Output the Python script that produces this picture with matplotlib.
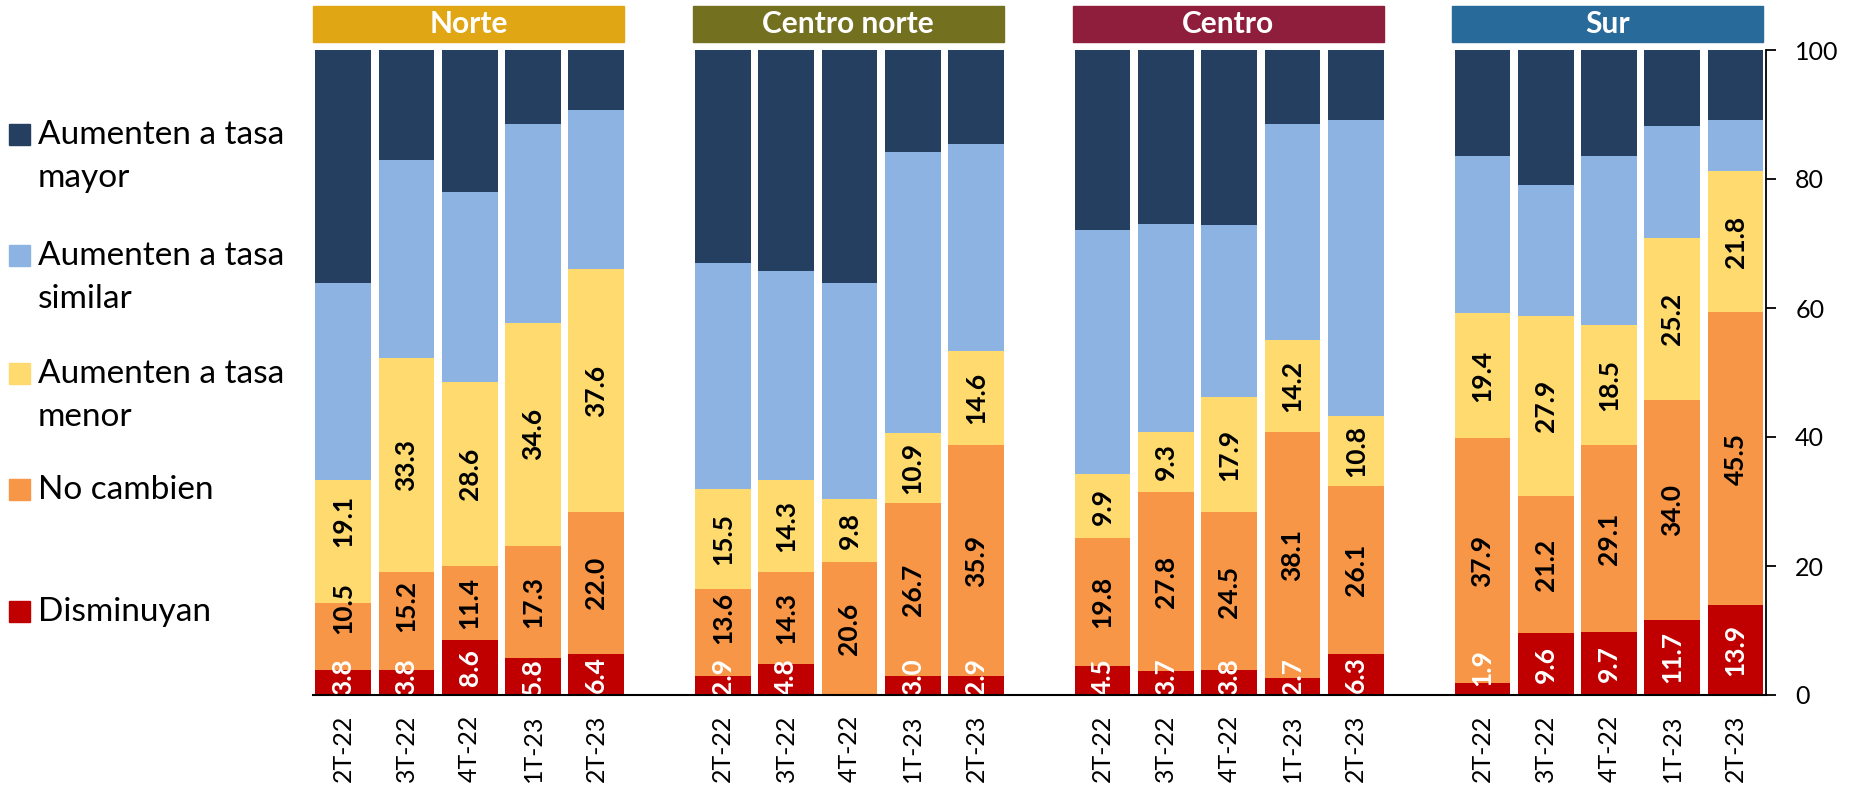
import matplotlib
matplotlib.use("Agg")
import matplotlib.pyplot as plt
from matplotlib.patches import Rectangle
from matplotlib.transforms import blended_transform_factory
import numpy as np

plt.rcParams['font.family'] = ['Lato', 'DejaVu Sans']

regions = ["Norte", "Centro norte", "Centro", "Sur"]
region_colors = ["#E0A614", "#737020", "#8F1D3C", "#286A9A"]
periods = ["2T-22", "3T-22", "4T-22", "1T-23", "2T-23"]

series_names = ["Disminuyan", "No cambien", "Aumenten a tasa\nmenor",
                "Aumenten a tasa\nsimilar", "Aumenten a tasa\nmayor"]
series_colors = ["#C00000", "#F79646", "#FFDA6E", "#8DB3E2", "#243F60"]

# values per region, order of periods
disminuyan = [[3.8, 3.8, 8.6, 5.8, 6.4],
              [2.9, 4.8, 0.0, 3.0, 2.9],
              [4.5, 3.7, 3.8, 2.7, 6.3],
              [1.9, 9.6, 9.7, 11.7, 13.9]]
no_cambien = [[10.5, 15.2, 11.4, 17.3, 22.0],
              [13.6, 14.3, 20.6, 26.7, 35.9],
              [19.8, 27.8, 24.5, 38.1, 26.1],
              [37.9, 21.2, 29.1, 34.0, 45.5]]
menor = [[19.1, 33.3, 28.6, 34.6, 37.6],
         [15.5, 14.3, 9.8, 10.9, 14.6],
         [9.9, 9.3, 17.9, 14.2, 10.8],
         [19.4, 27.9, 18.5, 25.2, 21.8]]
similar = [[30.4, 30.6, 29.4, 30.8, 24.7],
           [34.9, 32.3, 33.4, 43.6, 32.0],
           [37.9, 32.3, 26.6, 33.5, 45.9],
           [24.4, 20.3, 26.3, 17.3, 7.9]]
mayor = [[36.2, 17.1, 22.0, 11.5, 9.3],
         [33.1, 34.3, 36.2, 15.8, 14.6],
         [27.9, 26.9, 27.2, 11.5, 10.9],
         [16.4, 21.0, 16.4, 11.8, 10.9]]
yticks = [0, 20, 40, 60, 80, 100]

# manual label nudges (region, period, series) -> shift in axis units
label_nudge = {(0, 0, 1): 4.4, (0, 0, 2): 3.1, (0, 1, 1): 2.4,
               (1, 0, 1): 2.2, (3, 0, 0): 1.4}

W, H = 1857, 801
fig = plt.figure(figsize=(W / 100, H / 100), dpi=100)
ax = fig.add_axes([313 / W, 1 - 695 / H, (1766 - 313) / W, (695 - 50) / H])

bw = 0.88
all_series = [disminuyan, no_cambien, menor, similar, mayor]
for g in range(len(regions)):
    xs = np.arange(len(periods)) + g * (len(periods) + 1)
    bottom = np.zeros(len(periods))
    for s, data in enumerate(all_series):
        vals = np.array(data[g])
        ax.bar(xs, vals, bw, bottom=bottom, color=series_colors[s],
               edgecolor='none', zorder=2)
        if s < 3:
            for p, (x, b, v) in enumerate(zip(xs, bottom, vals)):
                if v <= 0:
                    continue
                mid = b + v / 2
                if s == 0:
                    mid = max(mid, 2.8)
                mid += label_nudge.get((g, p, s), 0)
                ax.text(x, mid, f"{v:.1f}", rotation=90, ha='center',
                        va='center', fontsize=19, fontweight='bold',
                        color='white' if s == 0 else 'black',
                        clip_on=True, zorder=3)
        bottom = bottom + vals
    # header box
    trans = blended_transform_factory(ax.transData, ax.transAxes)
    x0 = xs[0] - 0.475
    x1 = xs[-1] + bw / 2
    ax.add_patch(Rectangle((x0, 1 + 8 / 645), x1 - x0, 36 / 645,
                           transform=trans, color=region_colors[g],
                           clip_on=False, zorder=3))
    ax.text((x0 + x1) / 2, 1 + 26 / 645, regions[g], transform=trans,
            ha='center', va='center', color='white', fontsize=21.5,
            fontweight='bold', zorder=4)

all_x = np.concatenate([np.arange(len(periods)) + g * (len(periods) + 1)
                        for g in range(len(regions))])
ax.set_xticks(all_x)
ax.set_xticklabels(periods * len(regions), rotation=90, fontsize=18)
ax.tick_params(axis='x', length=0, pad=14)
ax.set_xlim(-0.475, 22.48)
ax.set_ylim(0, 100)
ax.yaxis.tick_right()
ax.set_yticks(yticks)
ax.set_yticklabels([str(t) for t in yticks], fontsize=18)
ax.tick_params(axis='y', direction='out', length=7, width=1.3, pad=14)
for sp in ['top', 'left']:
    ax.spines[sp].set_visible(False)
ax.spines['right'].set_linewidth(1.3)
ax.spines['bottom'].set_linewidth(1.5)
ax.spines['bottom'].set_zorder(5)

# legend (top to bottom)
legend_y = [135, 256, 374, 490, 612]
order = [4, 3, 2, 1, 0]
for yy, s in zip(legend_y, order):
    fig.patches.append(Rectangle((9 / W, 1 - (yy + 10) / H), 21 / W, 21 / H,
                                 transform=fig.transFigure,
                                 color=series_colors[s]))
    for k, line in enumerate(series_names[s].split("\n")):
        fig.text(38 / W, 1 - (yy + k * 43) / H, line, fontsize=24,
                 va='center', ha='left', color='black')

fig.savefig("out.png", dpi=100)
